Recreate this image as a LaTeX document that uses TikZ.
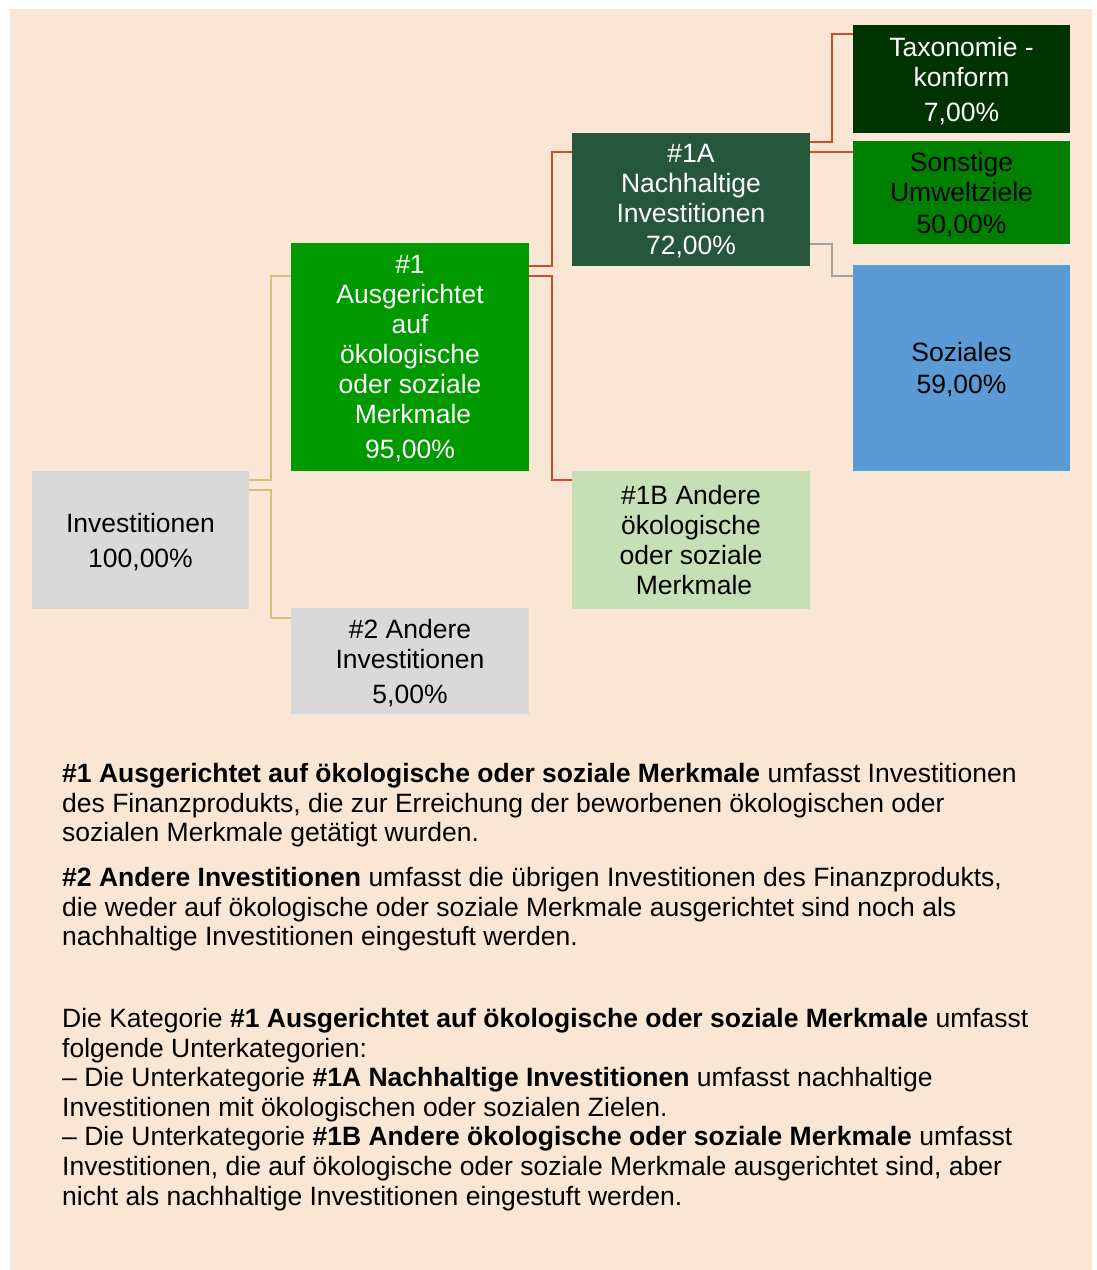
\documentclass[tikz,border=0pt]{standalone}
\usepackage{fontspec}
\setmainfont{Liberation Sans}
\usepackage{tikz}

\definecolor{peach}{RGB}{249,230,213}
\definecolor{boxgray}{RGB}{217,217,217}
\definecolor{midgreen}{RGB}{0,153,0}
\definecolor{deepgreen}{RGB}{38,87,59}
\definecolor{palegreen}{RGB}{197,224,180}
\definecolor{darkgreen}{RGB}{0,51,0}
\definecolor{plaingreen}{RGB}{0,128,0}
\definecolor{skyblue}{RGB}{91,155,213}
\definecolor{goldline}{RGB}{206,193,124}
\definecolor{redline}{RGB}{201,80,47}
\definecolor{greyline}{RGB}{160,160,160}

% last line of a box without its depth
\newcommand{\flatline}[1]{\raisebox{0pt}[\height][0pt]{#1}}

\tikzset{
  catbox/.style={inner sep=0pt, align=center, font=\fontsize{26.5}{30}\selectfont},
  link/.style={line width=2.2pt},
  para/.style={anchor=north west, inner sep=0pt, align=left, font=\fontsize{26.5}{29.6}\selectfont}
}

\begin{document}
\begin{tikzpicture}[x=1pt,y=-1pt]
\useasboundingbox (0,0) rectangle (1097,1270);
\fill[peach] (10,9) rectangle (1092,1270);

% tree
\node[catbox, fill=boxgray, minimum width=217pt, minimum height=138pt] (inv) at (140.5,540) {Investitionen\\[5pt]\flatline{100,00\%}};
\node[catbox, fill=midgreen, text=white, minimum width=238pt, minimum height=228pt] (one) at (410,357)
  {\#1\\Ausgerichtet\\auf\\ökologische\\oder soziale\\\hspace*{6pt}Merkmale\\[5pt]\flatline{95,00\%}};
\node[catbox, fill=boxgray, minimum width=238pt, minimum height=106pt] (two) at (410,661) {\#2 Andere\\Investitionen\\[5pt]\flatline{5,00\%}};
\node[catbox, fill=deepgreen, text=white, minimum width=238pt, minimum height=133pt] (oneA) at (691,199.5)
  {\#1A\\Nachhaltige\\Investitionen\\[2pt]\flatline{72,00\%}};
\node[catbox, fill=palegreen, minimum width=238pt, minimum height=138pt] (oneB) at (691,540)
  {\#1B Andere\\ökologische\\oder soziale\\\hspace*{6pt}Merkmale};
\node[catbox, fill=darkgreen, text=white, minimum width=217pt, minimum height=108pt] (tax) at (961.5,79)
  {Taxonomie -\\konform\\[5pt]\flatline{7,00\%}};
\node[catbox, fill=plaingreen, minimum width=217pt, minimum height=103pt] (son) at (961.5,192.5)
  {Sonstige\\Umweltziele\\[2pt]\flatline{50,00\%}};
\node[catbox, fill=skyblue, minimum width=217pt, minimum height=206pt] (soz) at (961.5,368)
  {Soziales\\[2pt]\flatline{59,00\%}};

% connectors
\draw[link, goldline] ([yshift=-9pt]inv.north east) -- ++(22,0) |- ([yshift=-33pt]one.north west);
\draw[link, goldline] ([yshift=-19pt]inv.north east) -- ++(22,0) |- ([yshift=-10pt]two.north west);
\draw[link, redline] ([yshift=-23pt]one.north east) -- ++(23,0) |- ([yshift=-19pt]oneA.north west);
\draw[link, redline] ([yshift=-33pt]one.north east) -- ++(23,0) |- ([yshift=-9pt]oneB.north west);
\draw[link, redline] ([yshift=-9pt]oneA.north east) -- ++(22,0) |- ([yshift=-9pt]tax.north west);
\draw[link, redline] ([yshift=-19pt]oneA.north east) -- ([yshift=-11pt]son.north west);
\draw[link, greyline] ([yshift=22pt]oneA.south east) -- ++(22,0) |- ([yshift=-11pt]soz.north west);

% notes
\node[para] (note1) at (62,763)
  {\textbf{\#1 Ausgerichtet auf ökologische oder soziale Merkmale} umfasst Investitionen\\
   des Finanzprodukts, die zur Erreichung der beworbenen ökologischen oder\\
   sozialen Merkmale getätigt wurden.};
\node[para] (note2) at (62,867)
  {\textbf{\#2 Andere Investitionen} umfasst die übrigen Investitionen des Finanzprodukts,\\
   die weder auf ökologische oder soziale Merkmale ausgerichtet sind noch als\\
   nachhaltige Investitionen eingestuft werden.};
\node[para] (note3) at (62,1008)
  {Die Kategorie \textbf{\#1 Ausgerichtet auf ökologische oder soziale Merkmale} umfasst\\
   folgende Unterkategorien:\\
   – Die Unterkategorie \textbf{\#1A Nachhaltige Investitionen} umfasst nachhaltige\\
   Investitionen mit ökologischen oder sozialen Zielen.\\
   – Die Unterkategorie \textbf{\#1B Andere ökologische oder soziale Merkmale} umfasst\\
   Investitionen, die auf ökologische oder soziale Merkmale ausgerichtet sind, aber\\
   nicht als nachhaltige Investitionen eingestuft werden.};
\end{tikzpicture}
\end{document}
